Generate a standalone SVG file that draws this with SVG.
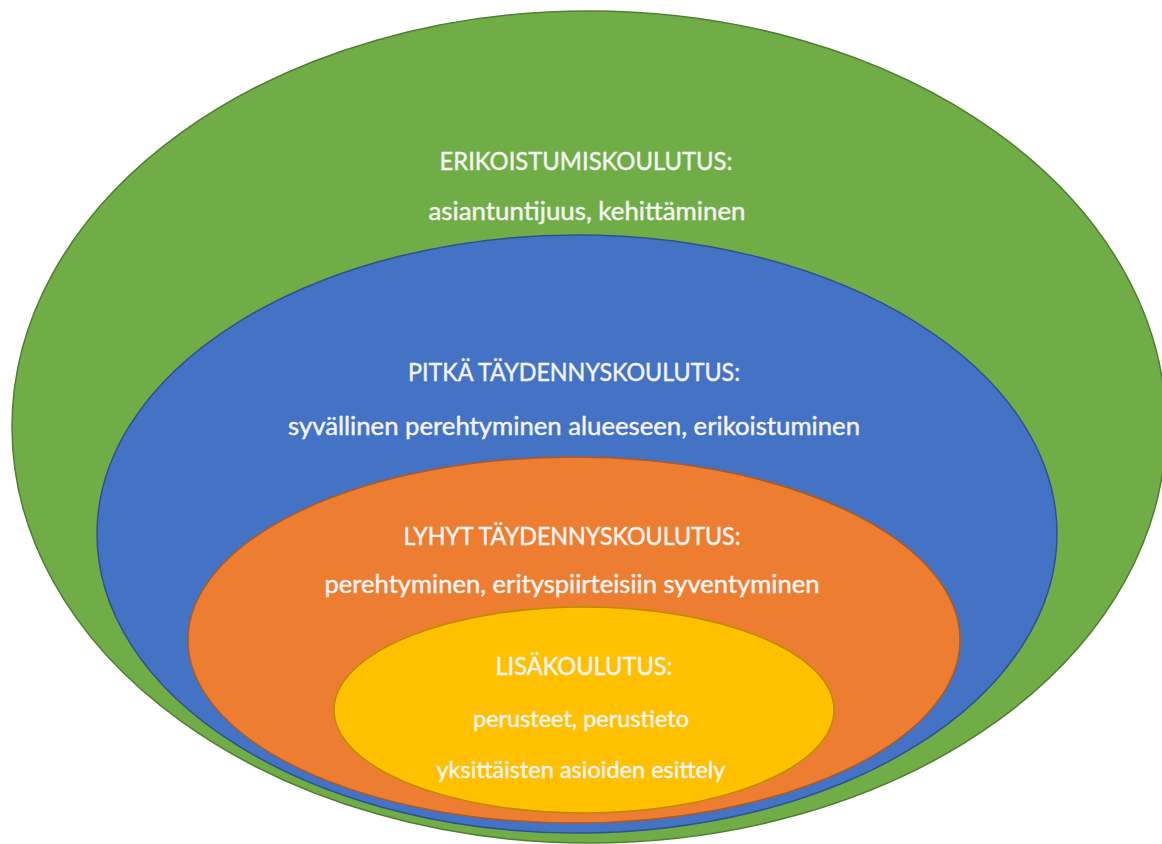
<svg xmlns="http://www.w3.org/2000/svg" width="1162" height="844" viewBox="0 0 1162 844">
  <style>
    .lbl { font-family: Lato, "Liberation Sans", sans-serif; font-size: 24.5px; fill: #F4F4F2; stroke: #F4F4F2; stroke-width: 0.45px; text-anchor: middle; }
    .sm { font-size: 23px; }
    .ring { stroke-width: 1.5; }
  </style>
  <rect x="0" y="0" width="1162" height="844" fill="#FFFFFF"/>
  <g id="erikoistumiskoulutus">
    <ellipse class="ring" cx="589" cy="427" rx="577" ry="416" fill="#70AD47" stroke="#507E32"/>
    <text class="lbl" x="586" y="170" textLength="293" lengthAdjust="spacingAndGlyphs">ERIKOISTUMISKOULUTUS:</text>
    <text class="lbl" x="587" y="220" textLength="317" lengthAdjust="spacingAndGlyphs">asiantuntijuus, kehittäminen</text>
  </g>
  <g id="pitka-taydennyskoulutus">
    <ellipse class="ring" cx="577" cy="534" rx="480" ry="299" fill="#4472C4" stroke="#2F528F"/>
    <text class="lbl" x="574" y="381" textLength="332" lengthAdjust="spacingAndGlyphs">PITKÄ TÄYDENNYSKOULUTUS:</text>
    <text class="lbl" x="574" y="435" textLength="572" lengthAdjust="spacingAndGlyphs">syvällinen perehtyminen alueeseen, erikoistuminen</text>
  </g>
  <g id="lyhyt-taydennyskoulutus">
    <ellipse class="ring" cx="574" cy="640" rx="386" ry="183" fill="#ED7D31" stroke="#AE5A21"/>
    <text class="lbl" x="572" y="545" textLength="337" lengthAdjust="spacingAndGlyphs">LYHYT TÄYDENNYSKOULUTUS:</text>
    <text class="lbl" x="572" y="593" textLength="495" lengthAdjust="spacingAndGlyphs">perehtyminen, erityspiirteisiin syventyminen</text>
  </g>
  <g id="lisakoulutus">
    <ellipse class="ring" cx="584" cy="710" rx="250" ry="103" fill="#FFC000" stroke="#BC8C00"/>
    <text class="lbl" x="584" y="675" textLength="177" lengthAdjust="spacingAndGlyphs">LISÄKOULUTUS:</text>
    <text class="lbl sm" x="581" y="727" textLength="216" lengthAdjust="spacingAndGlyphs">perusteet, perustieto</text>
    <text class="lbl sm" x="581" y="778" textLength="289" lengthAdjust="spacingAndGlyphs">yksittäisten asioiden esittely</text>
  </g>
  <g id="connectors"/>
</svg>
